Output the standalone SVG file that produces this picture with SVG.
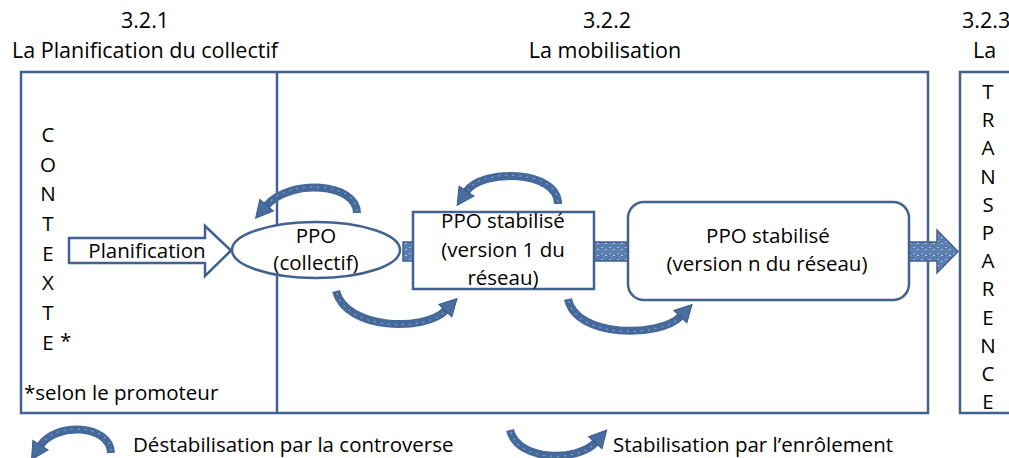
<svg xmlns="http://www.w3.org/2000/svg" width="1009" height="458" viewBox="0 0 1009 458">
<style>
text{font-family:"Open Sans","Liberation Sans",Arial,sans-serif;font-size:20.5px;fill:#000}
.h{font-size:21.5px}
.m{text-anchor:middle}
.box{fill:none;stroke:#41628f;stroke-width:2.5}
.node{fill:#fff;stroke:#41628f;stroke-width:2.5}
.arc{fill:none;stroke:#46699c;stroke-width:8;marker-end:url(#head)}
.arcin{fill:none;stroke:#86a0c8;stroke-width:1.2;stroke-dasharray:2 5}
.tex{fill:url(#tex);stroke:#41628f;stroke-width:1.5}
</style>
<defs>
<pattern id="tex" width="8" height="6" patternUnits="userSpaceOnUse">
<rect width="8" height="6" fill="#5a7daf"/>
<rect x="1" y="1" width="2" height="1" fill="#a7bcdb"/>
<rect x="5" y="3" width="2" height="1" fill="#b5c7e2"/>
<rect x="3" y="4" width="1" height="1" fill="#8aa4cc"/>
</pattern>
<marker id="head" markerUnits="userSpaceOnUse" markerWidth="24" markerHeight="24" viewBox="0 0 24 24" refX="4" refY="12" orient="auto">
<path d="M3,3 L20,12 L3,21 z" fill="#4a6d9f" stroke="#3a5b8a" stroke-width="1"/>
</marker>
</defs>

<g id="headers">
<text class="m h" x="145" y="28">3.2.1</text>
<text class="m h" x="145" y="58">La Planification du collectif</text>
<text class="m h" x="607" y="28">3.2.2</text>
<text class="m h" x="605" y="58">La mobilisation</text>
<text class="h" x="962" y="28">3.2.3</text>
<text class="h" x="973" y="58">La</text>
</g>

<g id="frames">
<rect class="box" x="21" y="72" width="907" height="341"/>
<line class="box" x1="277" y1="72" x2="277" y2="413"/>
<rect class="box" x="960" y="72" width="60" height="341"/>
</g>

<g id="contexte">
<text class="m" x="48" y="142">C</text>
<text class="m" x="48" y="172">O</text>
<text class="m" x="48" y="201">N</text>
<text class="m" x="48" y="231">T</text>
<text class="m" x="48" y="261">E</text>
<text class="m" x="48" y="290">X</text>
<text class="m" x="48" y="320">T</text>
<text class="m" x="48" y="350">E</text>
<text x="60" y="348">*</text>
<text x="24" y="400">*selon le promoteur</text>
</g>

<g id="transparence">
<text class="m" x="988" y="99">T</text>
<text class="m" x="988" y="127">R</text>
<text class="m" x="988" y="155">A</text>
<text class="m" x="988" y="184">N</text>
<text class="m" x="988" y="212">S</text>
<text class="m" x="988" y="240">P</text>
<text class="m" x="988" y="268">A</text>
<text class="m" x="988" y="296">R</text>
<text class="m" x="988" y="325">E</text>
<text class="m" x="988" y="353">N</text>
<text class="m" x="988" y="381">C</text>
<text class="m" x="988" y="409">E</text>
</g>

<g id="planification">
<polygon class="node" points="69,238 205,238 205,226 231,250.5 205,276 205,263 69,263"/>
<text class="m" x="147" y="258">Planification</text>
</g>

<g id="connectors">
<rect class="tex" x="403" y="242" width="10" height="19"/>
<rect class="tex" x="594" y="242" width="34" height="19"/>
<polygon class="tex" points="909,242 937,242 937,230 958,251.5 937,273 937,261 909,261"/>
<path class="arc" d="M357,213 C357,183 290,178 266,206"/>
<path class="arcin" d="M357,211 C357,183 290,178 268,204"/>
<path class="arc" d="M558,204 C558,170 482,168 466,192"/>
<path class="arcin" d="M558,202 C558,170 482,168 468,190"/>
<path class="arc" d="M336,291 C346,330 425,332 446,310"/>
<path class="arcin" d="M337,293 C346,330 425,332 444,312"/>
<path class="arc" d="M568,299 C576,338 660,338 681,316"/>
<path class="arcin" d="M569,301 C576,338 660,338 679,318"/>
</g>

<g id="ppo">
<ellipse class="node" cx="316" cy="250" rx="84" ry="28"/>
<text class="m" x="316" y="243">PPO</text>
<text class="m" x="316" y="270">(collectif)</text>
</g>

<g id="ppo-v1">
<rect class="node" x="413" y="212" width="181" height="77"/>
<text class="m" x="503" y="228">PPO stabilisé</text>
<text class="m" x="503" y="257">(version 1 du</text>
<text class="m" x="503" y="285">réseau)</text>
</g>

<g id="ppo-vn">
<rect class="node" x="628" y="202" width="281" height="98" rx="16"/>
<text class="m" x="768" y="243">PPO stabilisé</text>
<text class="m" x="767" y="271">(version n du réseau)</text>
</g>

<g id="legend">
<path class="arc" d="M111,453 C110,424 55,422 40,446"/>
<path class="arcin" d="M111,451 C110,424 55,422 42,444"/>
<text x="133" y="452">Déstabilisation par la controverse</text>
<path class="arc" d="M510,430 C518,462 578,462 596,442"/>
<path class="arcin" d="M511,432 C518,462 578,462 594,444"/>
<text x="613" y="452">Stabilisation par l’enrôlement</text>
</g>
</svg>
